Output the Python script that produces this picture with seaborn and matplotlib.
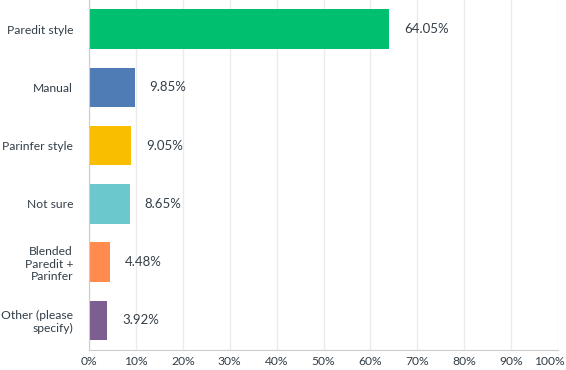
import seaborn as sns
import pandas as pd
import matplotlib.pyplot as plt
import matplotlib.transforms as mtransforms
from matplotlib.ticker import FuncFormatter

###################
# Data
answers = ["Paredit style", "Manual", "Parinfer style", "Not sure",
           "Blended\nParedit +\nParinfer", "Other (please\nspecify)"]
percents = [64.05, 9.85, 9.05, 8.65, 4.48, 3.92]
colors = ["#00bf6f", "#507cb6", "#f9be00", "#6bc8cd", "#ff8b4f", "#7d5e90"]
xticks = [0, 10, 20, 30, 40, 50, 60, 70, 80, 90, 100]

data = pd.DataFrame({"answer": answers, "percent": percents})

###################
# Setup
sns.set_style("white")
plt.rcParams["font.family"] = ["Lato", "DejaVu Sans"]
text_color = "#333e48"

fig = plt.figure(figsize=(5.66, 3.70), dpi=100)
ax = fig.add_axes([89 / 566, 20.5 / 370, 469 / 566, 349.5 / 370])

sns.barplot(data, ax=ax, x="percent", y="answer", hue="answer",
            palette=colors, legend=False, width=0.68, saturation=1,
            linewidth=0)

for i, p in enumerate(percents):
    ax.text(p + 3.1, i, f"{p:.2f}%", va="center", ha="left",
            fontsize=9.5, color=text_color)

ax.set_xlim(0, 100)
ax.set_ylim(5.5, -0.5)
ax.set_xticks(xticks)
ax.xaxis.set_major_formatter(FuncFormatter(lambda v, _: f"{v:.0f}%"))
ax.grid(axis="x", color="#ebebeb", linewidth=1)
ax.set_axisbelow(True)
ax.set_xlabel("")
ax.set_ylabel("")
ax.tick_params(axis="both", length=0, labelsize=8.7, labelcolor=text_color)
ax.tick_params(axis="x", pad=5)
ax.tick_params(axis="y", pad=11.5)
for lbl in ax.get_yticklabels():
    lbl.set_horizontalalignment("right")
    lbl.set_multialignment("right")

# keep the 100% label inside the figure, as in the reference
last = ax.get_xticklabels()[-1]
last.set_horizontalalignment("right")
last.set_transform(last.get_transform() +
                   mtransforms.ScaledTranslation(7 / 100, 0, fig.dpi_scale_trans))

sns.despine(ax=ax, top=True, right=True)
ax.spines["left"].set_color("#cccccc")
ax.spines["bottom"].set_color("#cccccc")

###################
# Export
fig.savefig("out.png", dpi=100)
